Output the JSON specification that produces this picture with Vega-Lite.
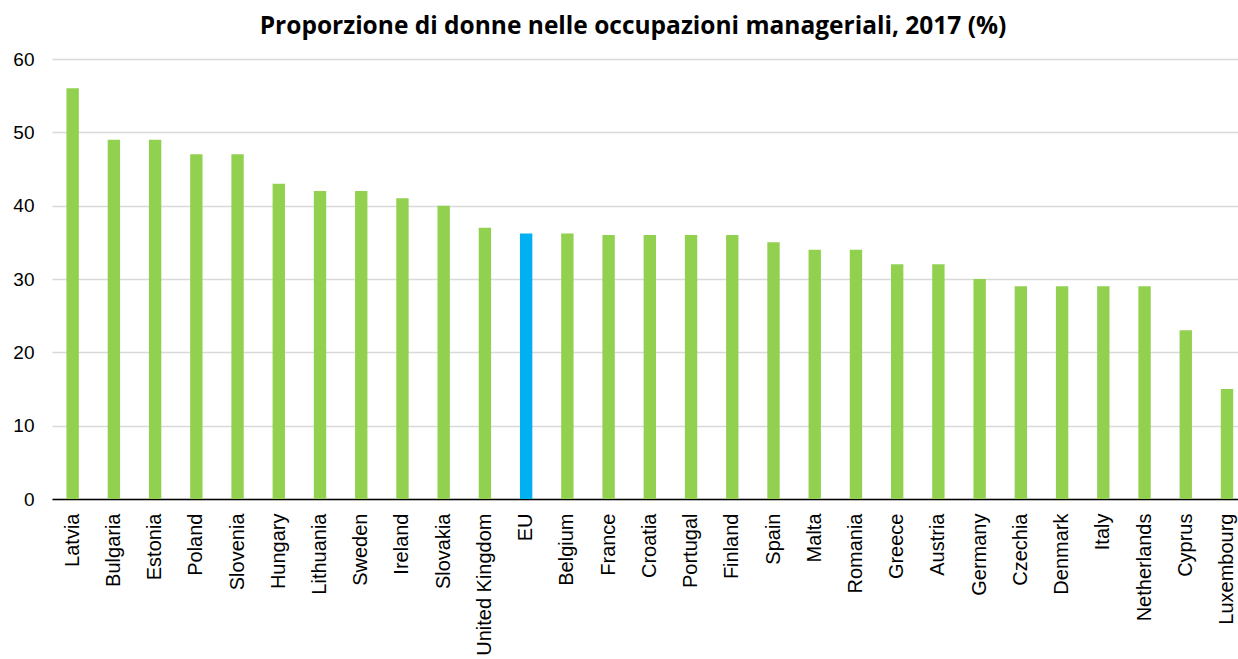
{
  "$schema": "https://vega.github.io/schema/vega-lite/v6.json",
  "autosize": {"type": "none"},
  "width": 1186,
  "height": 440,
  "padding": {"left": 52, "top": 59, "right": 0, "bottom": 160},
  "background": "white",
  "title": {
    "text": "Proporzione di donne nelle occupazioni manageriali, 2017 (%)",
    "font": "Open Sans",
    "fontWeight": "bold",
    "fontSize": 24.5,
    "color": "#000000",
    "anchor": "middle",
    "frame": "group",
    "dx": -12,
    "offset": 11
  },
  "data": {
    "values": [
      {"country": "Latvia", "value": 56},
      {"country": "Bulgaria", "value": 49},
      {"country": "Estonia", "value": 49},
      {"country": "Poland", "value": 47},
      {"country": "Slovenia", "value": 47},
      {"country": "Hungary", "value": 43},
      {"country": "Lithuania", "value": 42},
      {"country": "Sweden", "value": 42},
      {"country": "Ireland", "value": 41},
      {"country": "Slovakia", "value": 40},
      {"country": "United Kingdom", "value": 37},
      {"country": "EU", "value": 36.2},
      {"country": "Belgium", "value": 36.2},
      {"country": "France", "value": 36},
      {"country": "Croatia", "value": 36},
      {"country": "Portugal", "value": 36},
      {"country": "Finland", "value": 36},
      {"country": "Spain", "value": 35},
      {"country": "Malta", "value": 34},
      {"country": "Romania", "value": 34},
      {"country": "Greece", "value": 32},
      {"country": "Austria", "value": 32},
      {"country": "Germany", "value": 30},
      {"country": "Czechia", "value": 29},
      {"country": "Denmark", "value": 29},
      {"country": "Italy", "value": 29},
      {"country": "Netherlands", "value": 29},
      {"country": "Cyprus", "value": 23},
      {"country": "Luxembourg", "value": 15}
    ]
  },
  "mark": {"type": "bar"},
  "encoding": {
    "x": {
      "field": "country",
      "type": "nominal",
      "sort": null,
      "scale": {"paddingInner": 0.7, "paddingOuter": 0.234, "align": 0.75},
      "axis": {
        "title": null,
        "labelAngle": -90,
        "labelFont": "Liberation Sans",
        "labelFontSize": 20,
        "labelColor": "#000000",
        "labelPadding": 14,
        "ticks": false,
        "domainColor": "#000000",
        "domainWidth": 1.5,
        "grid": false
      }
    },
    "y": {
      "field": "value",
      "type": "quantitative",
      "scale": {"domain": [0, 60], "nice": false},
      "axis": {
        "title": null,
        "values": [0, 10, 20, 30, 40, 50, 60],
        "labelFont": "Liberation Sans",
        "labelFontSize": 19,
        "labelColor": "#000000",
        "labelPadding": 18,
        "ticks": false,
        "domain": false,
        "gridColor": "#d9d9d9",
        "gridWidth": 1.5
      }
    },
    "color": {
      "condition": {"test": "datum.country === 'EU'", "value": "#00b0f0"},
      "value": "#92d050"
    }
  },
  "config": {"view": {"stroke": null}}
}
